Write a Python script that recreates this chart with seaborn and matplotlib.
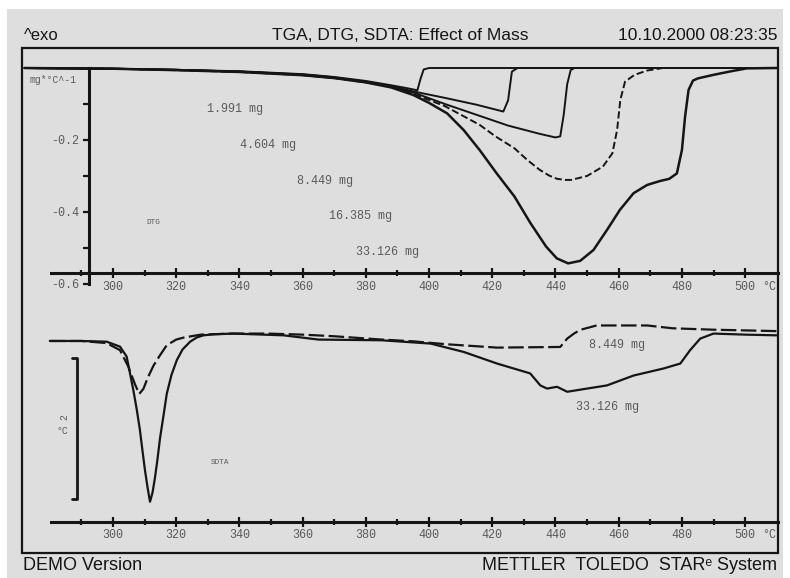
import seaborn as sns
import matplotlib
matplotlib.use("Agg")
import matplotlib.pyplot as plt
from matplotlib.patches import Rectangle

# ---- DTG curves (top panel), mg/°C vs °C ----
dtg_labels = ['1.991 mg', '4.604 mg', '8.449 mg', '16.385 mg', '33.126 mg']

t_1991 = [272, 300, 320, 340, 360, 370, 380, 388, 393, 396.3, 397.3, 398.3, 400, 420, 460, 500, 510]
v_1991 = [0, -0.002, -0.005, -0.009, -0.017, -0.025, -0.036, -0.048, -0.056, -0.062, -0.03, -0.004, 0, 0, 0, 0, 0]

t_4604 = [272, 300, 320, 340, 360, 370, 380, 388, 395, 405, 415, 423.5, 425, 426.2, 428, 440, 480, 510]
v_4604 = [0, -0.002, -0.005, -0.01, -0.018, -0.026, -0.038, -0.05, -0.065, -0.083, -0.102, -0.121, -0.09, -0.01, 0, 0, 0, 0]

t_8449 = [272, 300, 320, 340, 360, 370, 380, 388, 395, 405, 415, 425, 435, 440, 441.5, 442.6, 443.7, 444.8, 446, 470, 510]
v_8449 = [0, -0.002, -0.005, -0.01, -0.019, -0.027, -0.039, -0.052, -0.068, -0.1, -0.13, -0.16, -0.183, -0.193, -0.19, -0.13, -0.045, -0.006, 0, 0, 0]

t_16385 = [272, 300, 320, 340, 360, 370, 380, 388, 395, 405, 416, 421, 427, 431, 435, 438, 440.5, 443, 445, 450,
           455, 458, 459.5, 460.5, 462, 465, 469, 474, 490, 510]
v_16385 = [0, -0.002, -0.006, -0.011, -0.02, -0.028, -0.04, -0.053, -0.072, -0.106, -0.158, -0.19, -0.223, -0.255,
           -0.283, -0.299, -0.308, -0.311, -0.311, -0.3, -0.274, -0.237, -0.172, -0.089, -0.038, -0.019, -0.007,
           0, 0, 0]

t_33126 = [272, 300, 320, 340, 360, 370, 380, 388, 395, 400, 405.7, 410.9, 416, 421.4, 427, 432, 437, 440.4,
           444, 447.8, 452, 456.3, 460.4, 464.7, 469, 473.1, 476, 478.4, 480, 481, 482.1, 483.5, 485, 490,
           495, 500.5, 510]
v_33126 = [0, -0.002, -0.006, -0.011, -0.02, -0.028, -0.04, -0.054, -0.075, -0.097, -0.126, -0.172, -0.228,
           -0.293, -0.357, -0.43, -0.496, -0.529, -0.543, -0.536, -0.506, -0.45, -0.394, -0.348, -0.325,
           -0.314, -0.308, -0.293, -0.228, -0.135, -0.061, -0.035, -0.029, -0.019, -0.01, -0.001, 0]

dtg_temps = [t_1991, t_4604, t_8449, t_16385, t_33126]
dtg_values = [v_1991, v_4604, v_8449, v_16385, v_33126]
dtg_styles = ['-', '-', '-', '--', '-']

# label anchors for the mass annotations (°C, mg/°C)
dtg_label_t = [338.6, 349.1, 367.1, 378.2, 387.0]
dtg_label_v = [-0.114, -0.214, -0.314, -0.411, -0.511]

# ---- SDTA curves (bottom panel), °C offset vs °C ----
sdta_labels = ['8.449 mg', '33.126 mg']

s_t_8449 = [280, 290, 298, 302.2, 304.8, 307, 308.3, 309.6, 311, 312.8, 314.9, 317, 320, 322.5, 327.8, 338,
            349, 360, 370, 385, 395, 405.7, 421.5, 430, 441.5, 443.7, 446, 448, 453, 469, 477, 490, 510]
s_v_8449 = [0, 0, -0.03, -0.13, -0.36, -0.62, -0.75, -0.68, -0.52, -0.35, -0.2, -0.06, 0.02, 0.05, 0.09,
            0.105, 0.105, 0.09, 0.067, 0.02, -0.005, -0.047, -0.094, -0.09, -0.085, 0.034, 0.11, 0.16, 0.22,
            0.22, 0.18, 0.16, 0.14]

s_t_33126 = [280, 290, 298, 302.2, 304.3, 306.4, 307.5, 308.5, 309.3, 310.1, 310.9, 311.7, 312.5, 313.3, 314,
             314.9, 316, 317, 318.5, 320.2, 322, 324.4, 326.5, 328.6, 332, 338, 354, 365, 385, 400.5, 411,
             421.5, 432, 435.2, 437.3, 440.5, 443.7, 447.9, 456.3, 464.7, 474.2, 479.5, 482.6, 485.8, 490,
             500, 510]
s_v_33126 = [0, 0, -0.01, -0.08, -0.22, -0.69, -0.97, -1.26, -1.55, -1.83, -2.07, -2.28, -2.15, -1.93, -1.7,
             -1.37, -1.05, -0.75, -0.48, -0.27, -0.12, -0.01, 0.05, 0.08, 0.095, 0.105, 0.08, 0.02, 0.01,
             -0.037, -0.156, -0.32, -0.46, -0.63, -0.675, -0.65, -0.72, -0.69, -0.63, -0.49, -0.39, -0.32,
             -0.13, 0.034, 0.105, 0.09, 0.08]

sdta_temps = [s_t_8449, s_t_33126]
sdta_values = [s_v_8449, s_v_33126]
sdta_styles = [(0, (7, 2)), '-']
sdta_label_t = [459.5, 456.6]
sdta_label_v = [-0.06, -0.94]

# axis ticks
x_major = [300, 320, 340, 360, 380, 400, 420, 440, 460, 480, 500]
x_minor = [290, 310, 330, 350, 370, 390, 410, 430, 450, 470, 490]
y_major = [-0.6, -0.4, -0.2]
y_major_labels = ['-0.6', '-0.4', '-0.2']
y_minor = [-0.5, -0.3, -0.1]
scale_bar = 2.0  # °C

BG = '#dedede'
INK = '#151515'
GREY = '#5a5a5a'
MONO = ['Liberation Mono', 'DejaVu Sans Mono']
SANS = ['Liberation Sans', 'DejaVu Sans']

sns.set_theme(style='white')
plt.rcParams['font.family'] = SANS

W, H = 790, 578
fig = plt.figure(figsize=(W / 100, H / 100), dpi=100, facecolor='white')
fig.patches.append(Rectangle((7 / W, 0), 776 / W, 1 - 9 / H, transform=fig.transFigure,
                             facecolor=BG, edgecolor='none', zorder=-10))
fig.patches.append(Rectangle((22 / W, 1 - 553 / H), 756 / W, 505 / H, transform=fig.transFigure,
                             facecolor='none', edgecolor=INK, lw=1.6, zorder=5))

x_lo, x_hi = 271.2, 510.4
ax1 = fig.add_axes([22 / W, 1 - 290 / H, 756 / W, 242 / H], facecolor='none')
ax2 = fig.add_axes([22 / W, 1 - 553 / H, 756 / W, 263 / H], facecolor='none')

# ---- top panel ----
for t, v, ls, lab in zip(dtg_temps, dtg_values, dtg_styles, dtg_labels):
    lw = 1.8 if lab == '33.126 mg' else 1.4
    sns.lineplot(x=t, y=v, ax=ax1, color=INK, lw=lw, linestyle=ls)
for lab, t, v in zip(dtg_labels, dtg_label_t, dtg_label_v):
    ax1.text(t, v, lab, ha='center', va='center', fontsize=8.5, color=GREY, family=MONO)

ax1.set_xlim(x_lo, x_hi)
ax1.set_ylim(-0.617, 0.0556)
for s in ['top', 'right']:
    ax1.spines[s].set_visible(False)
ax1.spines['left'].set_position(('data', 292.5))
ax1.spines['left'].set_bounds(-0.6, 0)
ax1.spines['bottom'].set_position(('data', -0.570))
ax1.spines['bottom'].set_bounds(280.4, x_hi)
for s in ['left', 'bottom']:
    ax1.spines[s].set_color(INK)
    ax1.spines[s].set_linewidth(2.2)
ax1.set_yticks(y_major)
ax1.set_yticklabels(y_major_labels)
ax1.set_yticks(y_minor, minor=True)
ax1.text(273.7, -0.033, 'mg*°C^-1', ha='left', va='center', fontsize=7, color=GREY, family=MONO)
ax1.text(312.7, -0.43, 'DTG', ha='center', va='center', fontsize=5.5, color=GREY, family=MONO)
ax1.text(505.4, -0.608, '°C', ha='left', va='center', fontsize=8.5, color=GREY, family=MONO)

# ---- bottom panel ----
for t, v, ls, lab in zip(sdta_temps, sdta_values, sdta_styles, sdta_labels):
    sns.lineplot(x=t, y=v, ax=ax2, color=INK, lw=1.6, linestyle=ls)
for lab, t, v in zip(sdta_labels, sdta_label_t, sdta_label_v):
    ax2.text(t, v, lab, ha='center', va='center', fontsize=8.5, color=GREY, family=MONO)

ax2.set_xlim(x_lo, x_hi)
ax2.set_ylim(-3.007, 0.723)
for s in ['top', 'right', 'left']:
    ax2.spines[s].set_visible(False)
ax2.spines['bottom'].set_position(('data', -2.563))
ax2.spines['bottom'].set_bounds(280.4, x_hi)
ax2.spines['bottom'].set_color(INK)
ax2.spines['bottom'].set_linewidth(2.2)
ax2.set_yticks([])

# 2 °C scale bar
bar_x, bar_top = 288.5, -0.24
ax2.plot([bar_x - 1.6, bar_x, bar_x, bar_x - 1.6],
         [bar_top, bar_top, bar_top - scale_bar, bar_top - scale_bar], color=INK, lw=2)
ax2.text(284.6, -1.08, '2', ha='center', va='center', fontsize=7, color=GREY, family=MONO, rotation=90)
ax2.text(283.9, -1.27, '°C', ha='center', va='center', fontsize=7, color=GREY, family=MONO)
ax2.text(333.9, -1.73, 'SDTA', ha='center', va='center', fontsize=5.5, color=GREY, family=MONO)
ax2.text(505.4, -2.752, '°C', ha='left', va='center', fontsize=8.5, color=GREY, family=MONO)

for ax in (ax1, ax2):
    ax.set_xticks(x_major)
    ax.set_xticklabels([str(x) for x in x_major])
    ax.set_xticks(x_minor, minor=True)
    ax.tick_params(axis='x', which='major', direction='inout', length=7, width=1.6, color=INK,
                   labelsize=8.5, labelcolor=GREY, pad=2, bottom=True)
    ax.tick_params(axis='x', which='minor', direction='inout', length=5, width=1.6, color=INK, bottom=True)
    ax.tick_params(axis='y', which='both', direction='out', length=4, width=1.6, color=INK,
                   labelsize=8.5, labelcolor=GREY, pad=3, left=True)
    for lbl in ax.get_xticklabels() + ax.get_yticklabels():
        lbl.set_family(MONO)
    ax.set_xlabel('')
    ax.set_ylabel('')

# header / footer
fig.text(24 / W, 1 - 36 / H, '^exo', ha='left', va='center', fontsize=12, color=INK)
fig.text(400 / W, 1 - 36 / H, 'TGA, DTG, SDTA: Effect of Mass', ha='center', va='center', fontsize=12.5, color=INK)
fig.text(777 / W, 1 - 36 / H, '10.10.2000 08:23:35', ha='right', va='center', fontsize=12.5, color=INK)
fig.text(23 / W, 1 - 566 / H, 'DEMO Version', ha='left', va='center', fontsize=13, color=INK)
fig.text(777 / W, 1 - 566 / H, 'METTLER  TOLEDO  STARᵉ System', ha='right', va='center', fontsize=13,
         color=INK, family=SANS)

fig.savefig('out.png', dpi=100, facecolor=fig.get_facecolor())
